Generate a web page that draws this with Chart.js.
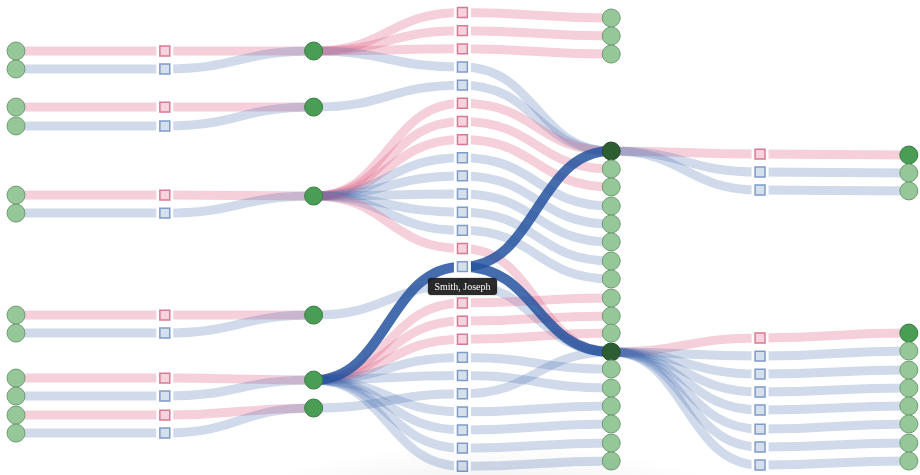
<!DOCTYPE html>
<html>
<head>
<meta charset="utf-8">
<script src="https://cdn.jsdelivr.net/npm/chart.js@4.4.1/dist/chart.umd.min.js"></script>
<style>
  body { margin: 0; background: #fff; }
  #wrap { position: relative; width: 920px; height: 475px; overflow: hidden; }
  #shade {
    position: absolute; left: 230px; top: 440px; width: 520px; height: 60px;
    background: radial-gradient(ellipse at 50% 100%, rgba(0,0,0,0.07), rgba(0,0,0,0) 65%);
    pointer-events: none;
  }
  #tip {
    position: absolute; padding: 2px 6px; border-radius: 3px;
    background: rgba(25,25,25,0.92); color: #fff; white-space: nowrap;
    font: 10px "Liberation Serif", "DejaVu Serif", serif; line-height: 13px;
    box-shadow: 0 0 2px rgba(0,0,0,0.4);
  }
</style>
</head>
<body>
<div id="wrap">
  <canvas id="chart" width="920" height="475"></canvas>
  <div id="shade"></div>
  <div id="tip">Smith, Joseph</div>
</div>
<script>
/* global Chart */

// rows of every column, in slot units (one slot = spacing of the middle column)
var rows0 = [2.12, 3.11, 5.21, 6.25, 10.06, 11.05, 16.67, 17.66, 20.14, 21.13, 22.18, 23.17]
var rows1 = [2.12, 3.11, 5.21, 6.25, 10.06, 11.05, 16.67, 17.66, 20.14, 21.13, 22.18, 23.17]
var sex1 = ['F', 'M', 'F', 'M', 'F', 'M', 'F', 'M', 'F', 'M', 'F', 'M']
var rows2 = [2.12, 5.21, 10.11, 16.67, 20.25, 21.79]
var rows3 = [0, 1, 2, 3, 4, 5, 6, 7, 8, 9, 10, 11, 12, 13, 14, 15, 16, 17, 18, 19, 20, 21, 22, 23, 24, 25]
var sex3 = 'FFFMMFFFMMMMMFMMFFFMMMMMMM'.split('')
var rows4 = [0.30, 1.29, 2.29, 7.63, 8.62, 9.61, 10.66, 11.65, 12.64, 13.69, 14.68, 15.73, 16.72, 17.66, 18.70, 19.64, 20.69, 21.68, 22.67, 23.72, 24.71]
var kind4 = ['stub', 'stub', 'stub', 'focus', 'stub', 'stub', 'stub', 'stub', 'stub', 'stub', 'stub', 'stub', 'stub', 'stub', 'focus', 'stub', 'stub', 'stub', 'stub', 'stub', 'stub']
var rows5 = [7.80, 8.79, 9.78, 17.93, 18.93, 19.92, 20.91, 21.90, 22.95, 23.94, 24.93]
var sex5 = 'FMMFMMMMMMM'.split('')
var rows6 = [7.85, 8.84, 9.83, 17.66, 18.65, 19.70, 20.69, 21.68, 22.67, 23.72, 24.71]
var kind6 = ['open', 'stub', 'stub', 'open', 'stub', 'stub', 'stub', 'stub', 'stub', 'stub', 'stub']

// links between column c and c+1: [index in c, index in c+1]
var links01 = [[0, 0], [1, 1], [2, 2], [3, 3], [4, 4], [5, 5], [6, 6], [7, 7], [8, 8], [9, 9], [10, 10], [11, 11]]
var links12 = [[0, 0], [1, 0], [2, 1], [3, 1], [4, 2], [5, 2], [6, 3], [7, 3], [8, 4], [9, 4], [10, 5], [11, 5]]
var links23 = [[0, 0], [0, 1], [0, 2], [0, 3], [1, 4], [2, 5], [2, 6], [2, 7], [2, 8], [2, 9], [2, 10], [2, 11], [2, 12], [2, 13],
  [3, 15], [4, 14], [4, 16], [4, 17], [4, 18], [4, 19], [4, 20], [4, 22], [4, 23], [4, 24], [4, 25], [5, 21]]
var links34 = [[0, 0], [1, 1], [2, 2], [3, 3], [4, 3], [5, 3], [6, 4], [7, 5], [8, 6], [9, 7], [10, 8], [11, 9], [12, 10],
  [13, 14], [14, 3], [14, 14], [15, 14], [16, 11], [17, 12], [18, 13], [19, 15], [20, 16], [21, 14], [22, 17], [23, 18], [24, 19], [25, 20]]
var links45 = [[3, 0], [3, 1], [3, 2], [14, 3], [14, 4], [14, 5], [14, 6], [14, 7], [14, 8], [14, 9], [14, 10]]
var links56 = [[0, 0], [1, 1], [2, 2], [3, 3], [4, 4], [5, 5], [6, 6], [7, 7], [8, 8], [9, 9], [10, 10]]

var focusCol = 3
var focusIdx = 14
var focusName = 'Smith, Joseph'

var rowsByCol = [rows0, rows1, rows2, rows3, rows4, rows5, rows6]
var sexByCol = [null, sex1, null, sex3, null, sex5, null]
var linkSets = [links01, links12, links23, links34, links45, links56]

var PINK = 'rgba(222,95,130,0.30)'
var BLUE = 'rgba(60,100,170,0.24)'
var DARK = 'rgba(38,84,160,0.86)'

// points per style
function pts (col, rows, keep) {
  var out = []
  rows.forEach(function (r, i) { if (keep(i)) out.push({ x: col, y: r }) })
  return out
}
var all = function () { return true }
var squaresF = pts(1, rows1, function (i) { return sex1[i] === 'F' })
  .concat(pts(3, rows3, function (i) { return sex3[i] === 'F' }))
  .concat(pts(5, rows5, function (i) { return sex5[i] === 'F' }))
var squaresM = pts(1, rows1, function (i) { return sex1[i] === 'M' })
  .concat(pts(3, rows3, function (i) { return sex3[i] === 'M' }))
  .concat(pts(5, rows5, function (i) { return sex5[i] === 'M' }))
var circLight = pts(0, rows0, all)
  .concat(pts(4, rows4, function (i) { return kind4[i] === 'stub' }))
  .concat(pts(6, rows6, function (i) { return kind6[i] === 'stub' }))
var circMid = pts(2, rows2, all)
  .concat(pts(6, rows6, function (i) { return kind6[i] === 'open' }))
var circDark = pts(4, rows4, function (i) { return kind4[i] === 'focus' })

var linkPlugin = {
  id: 'links',
  beforeDatasetsDraw: function (chart) {
    var ctx = chart.ctx
    var xs = chart.scales.x
    var ys = chart.scales.y
    function draw (hi) {
      linkSets.forEach(function (set, c) {
        set.forEach(function (l) {
          var sq = c % 2 === 1 ? [c, l[0]] : [c + 1, l[1]]
          var isHi = sq[0] === focusCol && sq[1] === focusIdx
          if (isHi !== hi) return
          var x1 = xs.getPixelForValue(c)
          var x2 = xs.getPixelForValue(c + 1)
          var y1 = ys.getPixelForValue(rowsByCol[c][l[0]])
          var y2 = ys.getPixelForValue(rowsByCol[c + 1][l[1]])
          var xm = (x1 + x2) / 2
          ctx.beginPath()
          ctx.moveTo(x1, y1)
          ctx.bezierCurveTo(xm, y1, xm, y2, x2, y2)
          ctx.strokeStyle = hi ? DARK : (sexByCol[sq[0]][sq[1]] === 'F' ? PINK : BLUE)
          ctx.lineWidth = hi ? 10 : 9
          ctx.stroke()
        })
      })
    }
    ctx.save()
    ctx.lineCap = 'butt'
    draw(false)
    draw(true)
    ctx.restore()
  }
}

var chart = new Chart(document.getElementById('chart'), {
  type: 'scatter',
  data: {
    datasets: [
      { data: squaresF.concat(squaresM), pointStyle: 'rect', pointRadius: 12, backgroundColor: '#fff', borderWidth: 0, order: 10 },
      { data: squaresF, pointStyle: 'rect', pointRadius: 7, backgroundColor: '#f5d3dc', borderColor: '#db7895', borderWidth: 1.5, order: 2 },
      { data: squaresM, pointStyle: 'rect', pointRadius: 7, backgroundColor: '#d6dfec', borderColor: '#7f9bc8', borderWidth: 1.5, order: 2 },
      { data: circLight, pointRadius: 9, backgroundColor: '#95c799', borderColor: '#6e9b72', borderWidth: 1, order: 1 },
      { data: circMid, pointRadius: 9, backgroundColor: '#4a9d55', borderColor: '#3a7a44', borderWidth: 1, order: 1 },
      { data: circDark, pointRadius: 9, backgroundColor: '#2c5e31', borderColor: '#22492a', borderWidth: 1, order: 1 }
    ]
  },
  options: {
    responsive: false,
    animation: false,
    events: [],
    clip: false,
    layout: { padding: 0, autoPadding: false },
    plugins: { legend: { display: false }, tooltip: { enabled: false } },
    scales: {
      x: { type: 'linear', display: false, min: -0.1075, max: 6.075 },
      y: { type: 'linear', display: false, reverse: true, min: -0.69, max: 25.48 }
    }
  },
  plugins: [linkPlugin]
})

// label under the focused person
var tip = document.getElementById('tip')
tip.textContent = focusName
var tx = chart.scales.x.getPixelForValue(focusCol)
var ty = chart.scales.y.getPixelForValue(rowsByCol[focusCol][focusIdx])
tip.style.left = (tx - tip.offsetWidth / 2) + 'px'
tip.style.top = (ty + 11) + 'px'
</script>
</body>
</html>
